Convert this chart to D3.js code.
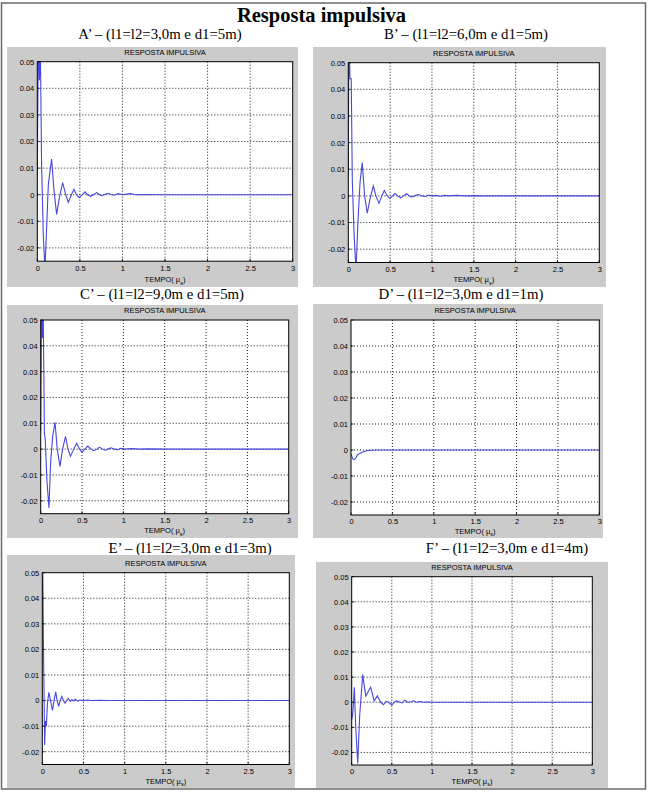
<!DOCTYPE html>
<html><head><meta charset="utf-8">
<script src="https://cdn.jsdelivr.net/npm/d3@7"></script>
<style>body{margin:0;background:#fff}</style>
</head><body><svg id="c" width="652" height="796"></svg>
<script>
// ---------- data ----------
const mainTitle = "Resposta impulsiva";
const panelTitles = [
  "A’ – (l1=l2=3,0m e d1=5m)",
  "B’ – (l1=l2=6,0m e d1=5m)",
  "C’ – (l1=l2=9,0m e d1=5m)",
  "D’ – (l1=l2=3,0m e d1=1m)",
  "E’ – (l1=l2=3,0m e d1=3m)",
  "F’ – (l1=l2=3,0m e d1=4m)"
];
const axesTitle = "RESPOSTA IMPULSIVA";
const xLabelMain = "TEMPO( μ";
const xLabelSub = "s";
const xDomain = [0, 3];
const yDomain = [-0.025, 0.05];
const xTicks = [0, 0.5, 1, 1.5, 2, 2.5, 3];
const xTickLabels = ["0", "0.5", "1", "1.5", "2", "2.5", "3"];
const yTicks = [-0.02, -0.01, 0, 0.01, 0.02, 0.03, 0.04, 0.05];
const yTickLabels = ["-0.02", "-0.01", "0", "0.01", "0.02", "0.03", "0.04", "0.05"];

const seriesA = [[0,0.0065],[0.012,0.06],[0.025,0.043],[0.035,0.058],[0.05,0.012],[0.07,-0.015],[0.09,-0.028],[0.11,-0.012],[0.13,0.004],[0.168,0.0134],[0.195,0.002],[0.227,-0.0074],[0.26,-0.001],[0.298,0.0045],[0.33,0.0005],[0.364,-0.0029],[0.40,0.0],[0.431,0.002],[0.46,0.0],[0.493,-0.0011],[0.53,0.0],[0.56,0.0011],[0.59,0.0],[0.626,-0.0006],[0.66,0.0],[0.697,0.0008],[0.73,0.0],[0.756,-0.0004],[0.79,0.0001],[0.834,0.0005],[0.87,0.0],[0.9,-0.0002],[0.95,0.0004],[1.0,0.0],[1.05,0.0002],[1.1,0.0004],[1.15,0.0],[1.25,0.0001],[1.4,0.0],[3,0]];
const seriesB = [[0,0.007],[0.008,0.065],[0.02,0.044],[0.035,0.044],[0.048,0.0055],[0.07,-0.015],[0.092,-0.028],[0.115,-0.01],[0.14,0.005],[0.167,0.0125],[0.195,0.0],[0.227,-0.0065],[0.26,-0.001],[0.299,0.0037],[0.33,0.0],[0.367,-0.0028],[0.40,0.0],[0.43,0.002],[0.465,0],[0.498,-0.001],[0.53,0],[0.558,0.0009],[0.59,0],[0.625,-0.0007],[0.66,0],[0.697,0.0008],[0.73,0],[0.76,-0.0004],[0.8,0.0001],[0.84,0.0005],[0.88,0.0],[0.92,-0.0002],[0.96,0.0003],[1.0,0.0],[1.05,0.0002],[1.1,-0.0001],[1.15,0.0002],[1.2,0.0],[1.3,0.0002],[1.4,0.0],[1.5,0.0001],[1.6,0.0],[3,0]];
const seriesC = [[0,0.007],[0.01,0.06],[0.022,0.043],[0.03,0.055],[0.045,0.006],[0.055,0.004],[0.075,-0.012],[0.1,-0.0228],[0.12,-0.005],[0.145,0.005],[0.173,0.0104],[0.2,0.0],[0.233,-0.0067],[0.265,0.0],[0.30,0.0049],[0.33,0.0],[0.36,-0.0028],[0.40,0.0],[0.435,0.0023],[0.47,0],[0.50,-0.0012],[0.535,0],[0.57,0.0012],[0.61,0],[0.64,-0.0006],[0.68,0],[0.71,0.0008],[0.75,0],[0.78,-0.0004],[0.82,0.0001],[0.85,0.0005],[0.89,0],[0.93,-0.0002],[0.97,0.0003],[1.02,0],[1.1,0.0002],[1.2,0],[1.3,0.0001],[1.5,0],[3,0]];
const seriesD = [[0,-0.0015],[0.02,-0.0033],[0.04,-0.0037],[0.06,-0.003],[0.08,-0.0018],[0.11,-0.0012],[0.15,-0.0007],[0.19,-0.0003],[0.24,-0.0001],[0.3,0],[3,0]];
const seriesE = [[0,0.038],[0.006,0.052],[0.014,0.022],[0.02,0.006],[0.028,-0.0175],[0.038,-0.008],[0.05,-0.01],[0.062,-0.001],[0.08,0.0032],[0.1,0.0],[0.123,-0.0038],[0.143,0.0],[0.163,0.0034],[0.18,0.0],[0.198,-0.0023],[0.216,0.0],[0.237,0.0016],[0.257,0.0],[0.276,-0.001],[0.296,0.0],[0.316,0.0008],[0.34,-0.0003],[0.36,0.0004],[0.38,-0.0002],[0.40,0.0005],[0.43,-0.0002],[0.46,0.0002],[0.5,0.0],[0.55,0.0002],[0.6,0],[0.7,0.0001],[0.8,0],[3,0]];
const seriesF = [[0,-0.007],[0.015,-0.004],[0.033,0.006],[0.05,-0.01],[0.075,-0.0244],[0.1,-0.005],[0.137,0.011],[0.175,0.0025],[0.237,0.006],[0.28,0.0005],[0.32,0.0025],[0.36,0.0],[0.395,-0.001],[0.43,0.0003],[0.46,0.0],[0.5,-0.0012],[0.53,0.0],[0.56,0.0005],[0.6,0.0],[0.63,-0.0003],[0.66,0.0008],[0.7,0.0],[0.74,0.0002],[0.77,0.0006],[0.81,0.0],[0.85,0.0003],[0.9,0.0],[0.95,0.0001],[1.0,0.0],[3,0]];
const allSeries = [seriesA, seriesB, seriesC, seriesD, seriesE, seriesF];

// ---------- layout (pixel geometry) ----------
const layout = [
  {g:[7,47,298,287],   p:[37.3,61.7,292.7,261.2], t:[160,39]},
  {g:[313,47,606,287], p:[348.3,62.7,599.3,262.5], t:[466,39]},
  {g:[7,305,298,538],  p:[40.7,320,288.7,513.7],  t:[162,299]},
  {g:[313,304,603,538],p:[351,320,599.3,515],     t:[461,299]},
  {g:[7,555,295,788],  p:[42.3,572.7,289.3,764.5], t:[190,553]},
  {g:[316,562,608,788],p:[351.7,576.7,592.3,765], t:[507,553]}
];

const svg = d3.select("#c");
svg.append("rect").attr("x",1.5).attr("y",3).attr("width",644).attr("height",786)
  .attr("fill","#fff").attr("stroke","#6a6a6a").attr("stroke-width",1.5);

svg.append("text").attr("x",321.5).attr("y",21.5).attr("text-anchor","middle")
  .attr("font-family","'Liberation Serif','Times New Roman',serif").attr("font-weight","bold")
  .attr("font-size",20.5).attr("fill","#000").text(mainTitle);

const sans = "'Liberation Sans',Arial,sans-serif";

allSeries.forEach((series, i) => {
  const L = layout[i];
  const [gx0, gy0, gx1, gy1] = L.g;
  const [px0, py0, px1, py1] = L.p;

  svg.append("text").attr("x",L.t[0]).attr("y",L.t[1]).attr("text-anchor","middle")
    .attr("font-family","'Liberation Serif','Times New Roman',serif")
    .attr("font-size",14.8).attr("fill","#000").text(panelTitles[i]);

  const g = svg.append("g");
  g.append("rect").attr("x",gx0).attr("y",gy0).attr("width",gx1-gx0).attr("height",gy1-gy0)
    .attr("fill","#cbcbcb");
  g.append("rect").attr("x",px0).attr("y",py0).attr("width",px1-px0).attr("height",py1-py0)
    .attr("fill","#fff");

  const x = d3.scaleLinear().domain(xDomain).range([px0, px1]);
  const y = d3.scaleLinear().domain(yDomain).range([py1, py0]);

  // grid
  g.selectAll(".gx").data(xTicks.slice(1,-1)).enter().append("line")
    .attr("x1",d=>x(d)).attr("x2",d=>x(d)).attr("y1",py0).attr("y2",py1)
    .attr("stroke","#000").attr("stroke-width",0.9).attr("stroke-dasharray","1,2");
  g.selectAll(".gy").data(yTicks.filter(d=>d!==0.05)).enter().append("line")
    .attr("x1",px0).attr("x2",px1).attr("y1",d=>y(d)).attr("y2",d=>y(d))
    .attr("stroke","#000").attr("stroke-width",0.9).attr("stroke-dasharray","1,2");

  // line
  const cid = "clip"+i;
  svg.append("clipPath").attr("id",cid).append("rect")
    .attr("x",px0).attr("y",py0).attr("width",px1-px0).attr("height",py1-py0);
  g.append("path").datum(series)
    .attr("clip-path","url(#"+cid+")")
    .attr("d", d3.line().x(d=>x(d[0])).y(d=>y(d[1])))
    .attr("fill","none").attr("stroke","#4646e0").attr("stroke-width",1.1);

  // axes
  const ax = d3.axisBottom(x).tickValues(xTicks).tickFormat((d,k)=>xTickLabels[k]).tickSize(0).tickPadding(4);
  const ay = d3.axisLeft(y).tickValues(yTicks).tickFormat((d,k)=>yTickLabels[k]).tickSize(0).tickPadding(3);
  const gxA = g.append("g").attr("transform","translate(0,"+py1+")").call(ax);
  const gyA = g.append("g").attr("transform","translate("+px0+",0)").call(ay);
  [gxA, gyA].forEach(a => {
    a.select(".domain").remove();
    a.selectAll("text").attr("font-family",sans).attr("font-size",7.5).attr("fill","#000");
  });
  // inward tick marks
  g.selectAll(".tx").data(xTicks).enter().append("line")
    .attr("x1",d=>x(d)).attr("x2",d=>x(d)).attr("y1",py1).attr("y2",py1-2.5)
    .attr("stroke","#000").attr("stroke-width",0.8);
  g.selectAll(".ty").data(yTicks).enter().append("line")
    .attr("x1",px0).attr("x2",px0+2.5).attr("y1",d=>y(d)).attr("y2",d=>y(d))
    .attr("stroke","#000").attr("stroke-width",0.8);
  g.append("rect").attr("x",px0).attr("y",py0).attr("width",px1-px0).attr("height",py1-py0)
    .attr("fill","none").attr("stroke","#000").attr("stroke-width",1);

  // axes title
  g.append("text").attr("x",(px0+px1)/2).attr("y",py0-7).attr("text-anchor","middle")
    .attr("font-family",sans).attr("font-size",7.5).attr("fill","#000").text(axesTitle);
  // x label
  const xl = g.append("text").attr("x",(px0+px1)/2).attr("y",py1+(gy1-py1)*0.69+3)
    .attr("text-anchor","middle").attr("font-family",sans).attr("font-size",7.5).attr("fill","#000");
  xl.append("tspan").text(xLabelMain);
  xl.append("tspan").attr("dy",2.5).attr("font-size",5.5).text(xLabelSub);
  xl.append("tspan").attr("dy",-2.5).text(")");
});
</script></body></html>
